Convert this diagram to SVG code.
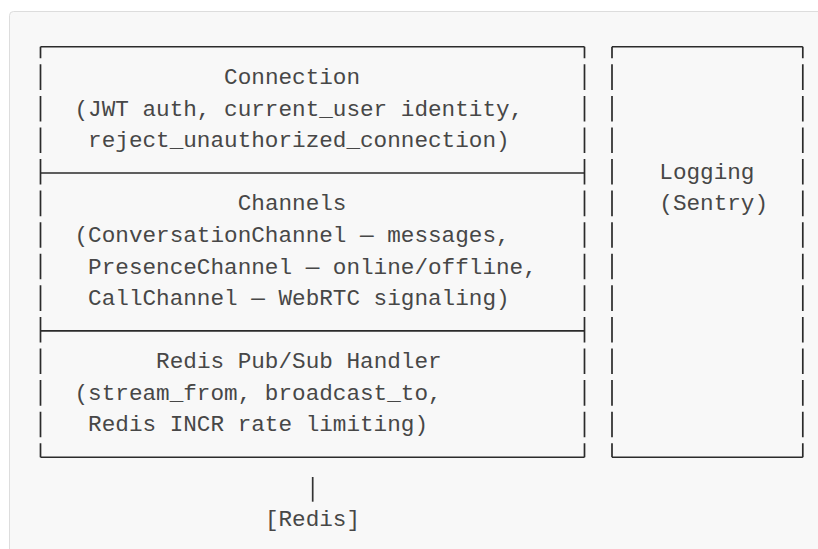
<svg xmlns="http://www.w3.org/2000/svg" width="818" height="549" viewBox="0 0 818 549">
  <style>
    .t { font-family: "Liberation Mono", "Courier New", monospace; font-size: 22.67px; fill: #474747; }
    .h { stroke: #2b2b2b; stroke-width: 1.6; fill: none; }
    .v { stroke: #2b2b2b; stroke-width: 1.7; fill: none; stroke-dasharray: 25.58 6; stroke-dashoffset: 13.98; }
  </style>
  <rect x="0" y="0" width="818" height="549" fill="#ffffff"/>
  <rect x="9.5" y="11.5" width="830" height="560" rx="4" ry="4" fill="#f8f8f8" stroke="#dddddd" stroke-width="1"/>

  <g id="node-connection">
    <line class="h" x1="40.5" y1="46.7" x2="584.5" y2="46.7"/>
    <line class="h" x1="40.5" y1="173.02" x2="584.5" y2="173.02"/>
    <line class="v" x1="40.5" y1="46.7" x2="40.5" y2="173.02"/>
    <line class="v" x1="584.5" y1="46.7" x2="584.5" y2="173.02"/>
    <text class="t" x="224.1" y="84">Connection</text>
    <text class="t" x="74.5" y="115.6">(JWT auth, current_user identity,</text>
    <text class="t" x="88.1" y="147.1">reject_unauthorized_connection)</text>
  </g>

  <g id="node-channels">
    <line class="h" x1="40.5" y1="330.92" x2="584.5" y2="330.92"/>
    <line class="v" x1="40.5" y1="173.02" x2="40.5" y2="330.92"/>
    <line class="v" x1="584.5" y1="173.02" x2="584.5" y2="330.92"/>
    <text class="t" x="237.7" y="210.3">Channels</text>
    <text class="t" x="74.5" y="241.9">(ConversationChannel — messages,</text>
    <text class="t" x="88.1" y="273.5">PresenceChannel — online/offline,</text>
    <text class="t" x="88.1" y="305.0">CallChannel — WebRTC signaling)</text>
  </g>

  <g id="node-redis-handler">
    <line class="h" x1="40.5" y1="457.24" x2="584.5" y2="457.24"/>
    <line class="v" x1="40.5" y1="330.92" x2="40.5" y2="457.24"/>
    <line class="v" x1="584.5" y1="330.92" x2="584.5" y2="457.24"/>
    <text class="t" x="156.1" y="368.2">Redis Pub/Sub Handler</text>
    <text class="t" x="74.5" y="399.8">(stream_from, broadcast_to,</text>
    <text class="t" x="88.1" y="431.4">Redis INCR rate limiting)</text>
  </g>

  <g id="node-logging">
    <line class="h" x1="612" y1="46.7" x2="802.8" y2="46.7"/>
    <line class="h" x1="612" y1="457.24" x2="802.8" y2="457.24"/>
    <line class="v" x1="612" y1="46.7" x2="612" y2="457.24"/>
    <line class="v" x1="802.8" y1="46.7" x2="802.8" y2="457.24"/>
    <text class="t" x="659.3" y="178.7">Logging</text>
    <text class="t" x="659.3" y="210.3">(Sentry)</text>
  </g>

  <g id="connectors">
    <line x1="312.7" y1="477" x2="312.7" y2="501.7" stroke="#333333" stroke-width="1.7"/>
  </g>

  <g id="node-redis">
    <text class="t" x="264.9" y="526.1">[Redis]</text>
  </g>
</svg>
